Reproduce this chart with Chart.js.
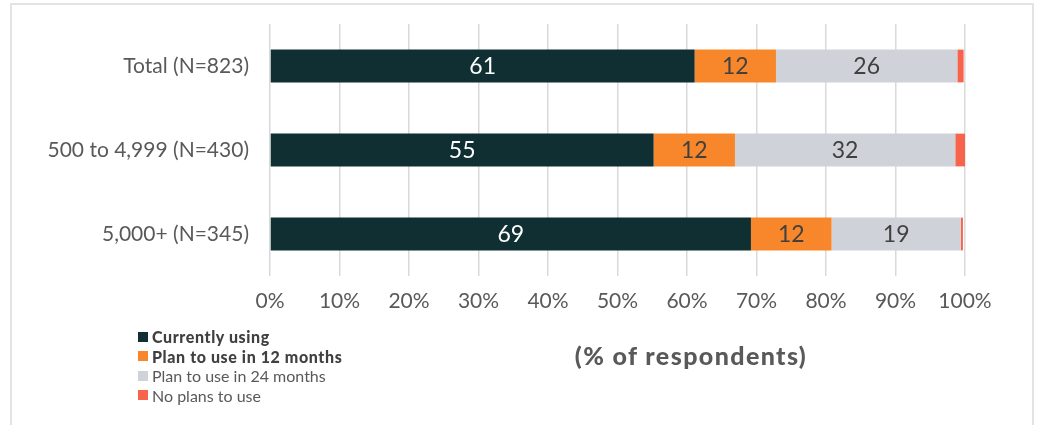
<!DOCTYPE html>
<html>
<head>
<meta charset="utf-8">
<script src="https://cdn.jsdelivr.net/npm/chart.js@4.4.1/dist/chart.umd.min.js"></script>
<style>
  body { margin: 0; background: #fff; font-family: Lato, sans-serif; }
  #wrap { position: relative; width: 1037px; height: 425px; overflow: hidden; }
  #frame { position: absolute; left: 10px; top: 3px; width: 1024px; height: 440px; border: 2px solid #e3e3e3; box-sizing: border-box; pointer-events: none; }
  #legend { position: absolute; left: 138px; top: 327px; font-size: 16px; color: #595959; line-height: 19.5px; }
  #legend div { display: flex; align-items: center; white-space: nowrap; }
  #legend span.box { display: inline-block; width: 10px; height: 10px; margin-right: 4px; }
  #legend .bold { font-weight: 900; color: #404040; letter-spacing: 0.6px; }
  #axisTitle { position: absolute; left: 520px; top: 340px; width: 342px; text-align: center; font-size: 25px; font-weight: 900; color: #595959; letter-spacing: 1.4px; }
</style>
</head>
<body>
<div id="wrap">
  <canvas id="chart" width="1037" height="425"></canvas>
  <div id="frame"></div>
  <div id="legend"></div>
  <div id="axisTitle">(% of respondents)</div>
</div>
<script>
// dados
const categorias = ['Total (N=823)', '500 to 4,999 (N=430)', '5,000+ (N=345)'];
const series = ['Currently using', 'Plan to use in 12 months', 'Plan to use in 24 months', 'No plans to use'];
const currentlyUsing = [61.1, 55.2, 69.2];
const plan12 = [11.7, 11.7, 11.6];
const plan24 = [26.1, 31.7, 18.6];
const noPlans = [0.9, 1.4, 0.3];
const xTicks = [0, 10, 20, 30, 40, 50, 60, 70, 80, 90, 100];

const cores = ['#0f2f33', '#f7872a', '#cfd2d9', '#f8634b'];
const coresTexto = ['#ffffff', '#404040', '#404040', null];
const negrito = [true, true, false, false];

// legenda em HTML
const legendDiv = document.getElementById('legend');
series.forEach((nome, i) => {
    const row = document.createElement('div');
    row.innerHTML = `<span class="box" style="background:${cores[i]}"></span><span class="${negrito[i] ? 'bold' : ''}">${nome}</span>`;
    legendDiv.appendChild(row);
});

// rótulos dentro das barras
const rotulosPlugin = {
    id: 'rotulos',
    afterDatasetsDraw(chart) {
        const ctx = chart.ctx;
        ctx.save();
        ctx.font = '23px Lato';
        ctx.textAlign = 'center';
        ctx.textBaseline = 'middle';
        chart.data.datasets.forEach((ds, i) => {
            if (!coresTexto[i]) return;
            chart.getDatasetMeta(i).data.forEach((bar, j) => {
                const x = (bar.x + bar.base) / 2;
                ctx.fillStyle = coresTexto[i];
                ctx.fillText(Math.round(ds.data[j]), x, bar.y + 1);
            });
        });
        ctx.restore();
    }
};

const valores = [currentlyUsing, plan12, plan24, noPlans];

// zera o padding automático dos eixos
function semPadding(axis) {
    axis.paddingTop = 0;
    axis.paddingBottom = 0;
    axis.paddingLeft = 0;
    axis.paddingRight = 0;
}

const ctx = document.getElementById('chart').getContext('2d');
const grafico = new Chart(ctx, {
    type: 'bar',
    data: {
        labels: categorias,
        datasets: series.map((nome, i) => ({
            label: nome,
            data: valores[i],
            backgroundColor: cores[i],
            barPercentage: 0.39,
            categoryPercentage: 1
        }))
    },
    options: {
        indexAxis: 'y',
        responsive: false,
        animation: false,
        layout: { padding: { top: 24, right: 72, bottom: 109, left: 0 } },
        plugins: {
            legend: { display: false },
            tooltip: { enabled: false }
        },
        scales: {
            x: {
                stacked: true,
                min: 0,
                max: 100,
                afterBuildTicks: axis => { axis.ticks = xTicks.map(v => ({ value: v })); },
                afterFit: axis => { axis.height = 40; semPadding(axis); },
                grid: { color: '#d9d9d9', lineWidth: 1.5, drawTicks: false },
                border: { display: false },
                ticks: {
                    padding: 13,
                    color: '#595959',
                    font: { family: 'Lato', size: 21 },
                    callback: v => v + '%'
                }
            },
            y: {
                stacked: true,
                afterFit: axis => { axis.width = 270; semPadding(axis); },
                grid: { display: false, drawTicks: false },
                border: { display: false },
                ticks: {
                    padding: 21,
                    color: '#595959',
                    font: { family: 'Lato', size: 21 }
                }
            }
        }
    },
    plugins: [rotulosPlugin]
});
</script>
</body>
</html>
